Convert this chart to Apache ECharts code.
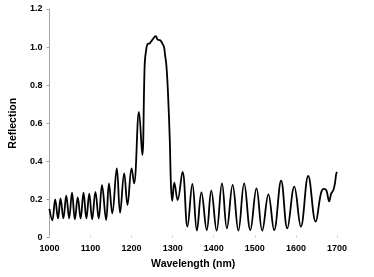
<!DOCTYPE html>
<html>
<head>
<meta charset="utf-8">
<script src="https://cdn.jsdelivr.net/npm/echarts@6/dist/echarts.min.js"></script>
<style>html,body{margin:0;padding:0;background:#fff}#c{width:374px;height:277px}</style>
</head>
<body>
<div id="c"></div>
<script>
const wavelength = [1000,1007,1014,1021,1027,1034,1041,1048,1055,1062,1069,1076,1083,1090,1097,1104,1112,1120,1128,1138,1145,1153,1164,1172,1182,1190,1200,1206,1218,1226,1232,1236,1239,1244,1247,1252,1256,1259,1263,1267,1271,1275,1279,1281,1285,1289,1293,1296,1299,1304,1312,1324,1336,1348,1359,1370,1383,1394,1407,1420,1432,1446,1460,1474,1489,1504,1518,1533,1547,1564,1579,1596,1612,1630,1648,1661,1668,1674,1681,1686,1691,1695,1698,1700];
const reflection = [0.15,0.09,0.20,0.10,0.205,0.10,0.22,0.10,0.235,0.095,0.21,0.10,0.235,0.10,0.23,0.095,0.24,0.10,0.275,0.092,0.284,0.127,0.363,0.13,0.337,0.171,0.363,0.284,0.66,0.433,0.914,0.993,1.016,1.019,1.028,1.042,1.054,1.058,1.04,1.037,1.033,1.019,1.0,0.967,0.897,0.74,0.51,0.267,0.193,0.288,0.197,0.345,0.057,0.281,0.036,0.237,0.039,0.246,0.036,0.284,0.048,0.276,0.036,0.284,0.039,0.258,0.036,0.227,0.039,0.298,0.048,0.267,0.057,0.323,0.083,0.232,0.255,0.249,0.19,0.232,0.248,0.284,0.333,0.345];
const xTicks = [1000,1100,1200,1300,1400,1500,1600,1700];
const yTicks = [0,0.2,0.4,0.6,0.8,1.0,1.2];

const chart = echarts.init(document.getElementById('c'), null, {renderer:'canvas'});
const font = '"Liberation Sans", Arial, sans-serif';
chart.setOption({
  animation:false,
  backgroundColor:'#fff',
  grid:{left:41.5, right:37, top:9, bottom:39.5},
  xAxis:{
    type:'value', min:xTicks[0], max:xTicks[xTicks.length-1], interval:100,
    name:'Wavelength (nm)', nameLocation:'middle', nameGap:20,
    nameTextStyle:{fontFamily:font, fontWeight:'bold', fontSize:10.5, color:'#000'},
    axisLine:{show:false},
    axisTick:{show:true, length:2, inside:true, lineStyle:{color:'#c8c8c8'}},
    axisLabel:{fontFamily:font, fontWeight:'bold', fontSize:9, color:'#000', margin:7,
      formatter:v => String(v)},
    splitLine:{show:false}
  },
  yAxis:{
    type:'value', min:yTicks[0], max:yTicks[yTicks.length-1], interval:0.2,
    name:'Reflection', nameLocation:'middle', nameGap:23, nameRotate:90,
    nameTextStyle:{fontFamily:font, fontWeight:'bold', fontSize:10.5, color:'#000'},
    axisLine:{show:true, lineStyle:{color:'#a6a6a6', width:1}},
    axisTick:{show:true, length:3, lineStyle:{color:'#a6a6a6'}},
    axisLabel:{fontFamily:font, fontWeight:'bold', fontSize:9, color:'#000', margin:7,
      formatter:v => v === 0 ? '0' : v.toFixed(1)},
    splitLine:{show:false}
  },
  series:[{
    type:'line',
    data:wavelength.map((w,i)=>[w,reflection[i]]),
    smooth:0.4,
    showSymbol:false,
    lineStyle:{color:'#000', width:1.8},
    clip:false
  }]
});
</script>
</body>
</html>
